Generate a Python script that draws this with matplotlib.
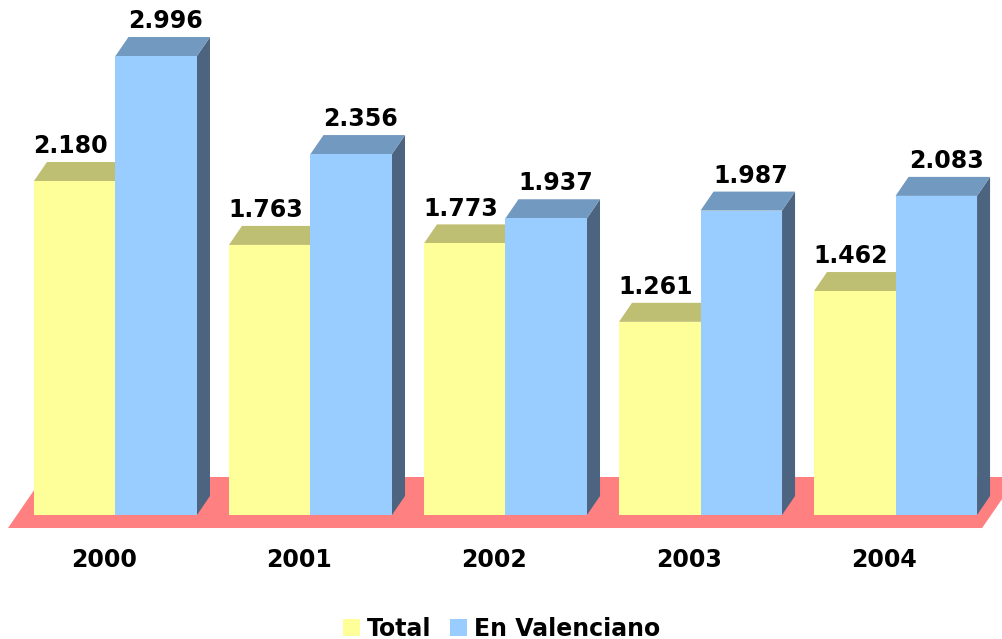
import matplotlib
matplotlib.use("Agg")
import matplotlib.pyplot as plt
from matplotlib.patches import Polygon, Patch

years = ["2000", "2001", "2002", "2003", "2004"]
total = [2180, 1763, 1773, 1261, 1462]
valenciano = [2996, 2356, 1937, 1987, 2083]
series_names = ["Total", "En Valenciano"]

# colours
YEL_FRONT, YEL_TOP, YEL_SIDE = "#FFFF99", "#BFBF73", "#9E9E5E"
BLU_FRONT, BLU_TOP, BLU_SIDE = "#99CCFF", "#7299BF", "#4D6480"
FLOOR = "#FF8080"

fig = plt.figure(figsize=(10.03, 6.39), dpi=100)
ax = fig.add_axes([0, 0, 1, 1])
ax.set_xlim(-0.592, 4.551)
ax.set_ylim(-809.4, 3361.6)
ax.axis("off")

W = 0.418          # bar width (data units)
DX, DY = 0.0667, 124.0   # depth offset

def box(x0, v, front, top, side, z):
    x1 = x0 + W
    ax.add_patch(Polygon([(x1, 0), (x1 + DX, DY), (x1 + DX, v + DY), (x1, v)],
                         closed=True, facecolor=side, edgecolor="none", zorder=z))
    ax.add_patch(Polygon([(x0, v), (x1, v), (x1 + DX, v + DY), (x0 + DX, v + DY)],
                         closed=True, facecolor=top, edgecolor="none", zorder=z))
    ax.bar([x0], [v], width=W, align="edge", color=front, edgecolor="none", zorder=z + 0.5)

# floor
fl, fr = -0.551, 4.444
fdx = 0.18
ax.add_patch(Polygon([(fl, -85), (fr, -85), (fr + fdx, 248), (fl + fdx, 248)],
                     closed=True, facecolor=FLOOR, edgecolor="none", zorder=1))

fmt = lambda v: f"{v:,}".replace(",", ".")
font = dict(fontsize=17, fontweight="bold", color="black")

for i, (t, v) in enumerate(zip(total, valenciano)):
    box(i - W, t, YEL_FRONT, YEL_TOP, YEL_SIDE, 2 + i * 2)
    box(i, v, BLU_FRONT, BLU_TOP, BLU_SIDE, 3 + i * 2)
    ax.text(i - W / 2 - 0.02, t + DY + 25, fmt(t), ha="center", va="bottom", zorder=20, **font)
    ax.text(i + W / 2 + 0.05, v + DY + 25, fmt(v), ha="center", va="bottom", zorder=20, **font)
    ax.text(i - 0.058, -294, years[i], ha="center", va="center", **font)

handles = [Patch(facecolor=YEL_FRONT, edgecolor="none"),
           Patch(facecolor=BLU_FRONT, edgecolor="none")]
fig.legend(handles, series_names, loc="lower center", bbox_to_anchor=(0.5, -0.036),
           ncol=2, frameon=False, handlelength=0.7, handleheight=0.7,
           handletextpad=0.3, columnspacing=0.8,
           prop=dict(size=17, weight="bold"))

fig.savefig("out.png", dpi=100)
